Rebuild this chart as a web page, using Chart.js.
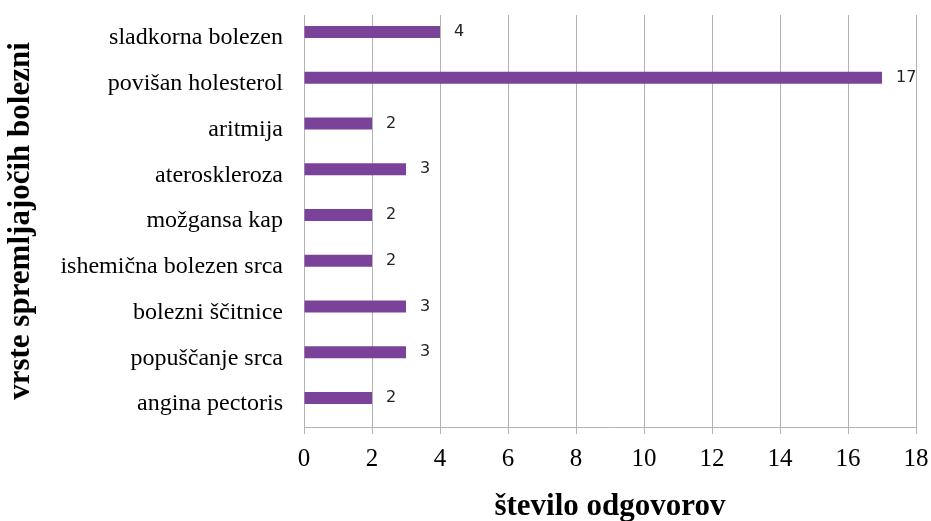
<!DOCTYPE html>
<html>
<head>
<meta charset="utf-8">
<script src="https://cdn.jsdelivr.net/npm/chart.js@4.4.0/dist/chart.umd.min.js"></script>
<style>
html,body{margin:0;padding:0;background:#fff;}
#wrap{width:931px;height:521px;position:relative;}
</style>
</head>
<body>
<div id="wrap"><canvas id="c"></canvas></div>
<script>
const categories = ["sladkorna bolezen","povišan holesterol","aritmija","ateroskleroza","možgansa kap","ishemična bolezen srca","bolezni ščitnice","popuščanje srca","angina pectoris"];
const values = [4,17,2,3,2,2,3,3,2];
const emptySeries = [null,null,null,null,null,null,null,null,null];
const xMin = 0, xMax = 18, xStep = 2;
const xTitle = "število odgovorov";
const yTitle = "vrste spremljajočih bolezni";

const labelPlugin = {
  id: 'valLabels',
  afterDatasetsDraw(chart) {
    const ctx = chart.ctx;
    const meta = chart.getDatasetMeta(0);
    ctx.save();
    ctx.font = '16px "DejaVu Sans"';
    ctx.fillStyle = '#222';
    ctx.textAlign = 'left';
    ctx.textBaseline = 'middle';
    meta.data.forEach((bar, i) => {
      ctx.fillText(String(values[i]), bar.x + 14, bar.y);
    });
    ctx.restore();
  }
};

new Chart(document.getElementById('c'), {
  type: 'bar',
  data: {
    labels: categories,
    datasets: [
      {data: values, backgroundColor: '#7A4399', borderWidth: 0, barPercentage: 1, categoryPercentage: 0.524},
      {data: emptySeries, backgroundColor: '#7A4399', borderWidth: 0, barPercentage: 1, categoryPercentage: 0.524}
    ]
  },
  options: {
    indexAxis: 'y',
    responsive: true,
    maintainAspectRatio: false,
    animation: false,
    layout: {padding: {top: 15, right: 15, left: 0, bottom: 0}},
    plugins: {legend: {display: false}, tooltip: {enabled: false}},
    scales: {
      x: {
        min: xMin, max: xMax,
        ticks: {stepSize: xStep, color: '#000', font: {family: '"Liberation Serif"', size: 25, lineHeight: 2.0}, padding: 0},
        grid: {color: '#b3b3b3', lineWidth: 1, tickLength: 7, drawTicks: true},
        border: {color: '#b3b3b3', width: 1},
        title: {display: true, text: xTitle, color: '#000', font: {family: '"Liberation Serif"', size: 31, weight: 'bold', lineHeight: 0.9}, padding: {top: 0, bottom: 0}},
        afterFit(scale) { scale.height = 94; }
      },
      y: {
        ticks: {color: '#000', font: {family: '"Liberation Serif"', size: 24}, padding: 0},
        grid: {display: true, drawOnChartArea: false, drawTicks: true, tickLength: 21, color: 'rgba(0,0,0,0)'},
        border: {display: true, color: '#b3b3b3', width: 1},
        title: {display: true, text: yTitle, color: '#000', font: {family: '"Liberation Serif"', size: 31, weight: 'bold'}, padding: {top: 2, bottom: 0}},
        afterFit(scale) { scale.width = 304; }
      }
    }
  },
  plugins: [labelPlugin]
});
</script>
</body>
</html>
